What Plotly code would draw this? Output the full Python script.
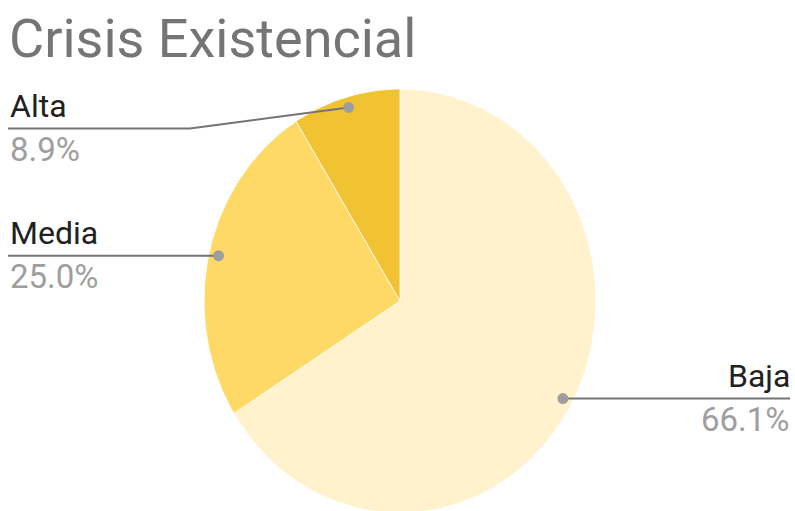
import math
import plotly.graph_objects as go

# ---- data ----
title_text = "Crisis Existencial"
categories = ["Baja", "Media", "Alta"]
values = [66.1, 25.0, 8.9]
pct_labels = ["66.1%", "25.0%", "8.9%"]
slice_colors = ["#FFF2CC", "#FFD966", "#F1C232"]

# ---- geometry (pixel-like data space) ----
W, H = 795, 511
CX, CY = 400, 301
RX, RY = 196, 212
DOT_R = 0.95

def pt(frac, r=1.0):
    a = 2 * math.pi * frac  # clockwise from top
    return CX + RX * r * math.sin(a), CY - RY * r * math.cos(a)

fig = go.Figure()
total = sum(values)
start = 0.0
mids = []
for cat, v, col in zip(categories, values, slice_colors):
    end = start + v / total
    n = max(4, int(300 * (end - start)))
    xs, ys = [CX], [CY]
    for i in range(n + 1):
        x, y = pt(start + (end - start) * i / n)
        xs.append(x); ys.append(y)
    xs.append(CX); ys.append(CY)
    fig.add_trace(go.Scatter(x=xs, y=ys, mode="lines", fill="toself",
                             fillcolor=col, line=dict(color="white", width=0.8),
                             hoverinfo="skip", showlegend=False))
    mids.append((start + end) / 2)
    start = end

# leader lines and labels
line_col = "#757575"
dot_col = "#9E9E9E"
NAME_SIZE, PCT_SIZE = 32, 33
annotations = [dict(text=title_text, x=7, y=38, xref="x", yref="y", xanchor="left",
                    yanchor="middle", showarrow=False,
                    font=dict(family="Roboto", size=54, color="#757575"))]

for cat, pct, m in zip(categories, pct_labels, mids):
    dx, dy = pt(m, DOT_R)
    right = dx > CX
    if cat == "Alta":
        ly = 128.5
        lx = [dx, 190, 8]
        lyy = [dy, ly, ly]
    else:
        ly = dy
        lx = [dx, 790 if right else 8]
        lyy = [dy, dy]
    fig.add_trace(go.Scatter(x=lx, y=lyy, mode="lines",
                             line=dict(color=line_col, width=2),
                             hoverinfo="skip", showlegend=False))
    fig.add_trace(go.Scatter(x=[dx], y=[dy], mode="markers",
                             marker=dict(color=dot_col, size=11),
                             hoverinfo="skip", showlegend=False))
    tx = 792 if right else 8
    anc = "right" if right else "left"
    annotations.append(dict(text=cat, x=tx, y=ly - 12 - 0.34 * NAME_SIZE, xref="x", yref="y",
                            xanchor=anc, yanchor="middle", showarrow=False,
                            font=dict(family="Roboto", size=NAME_SIZE, color="#212121")))
    annotations.append(dict(text=pct, x=tx, y=ly + 32 - 0.34 * PCT_SIZE, xref="x", yref="y",
                            xanchor=anc, yanchor="middle", showarrow=False,
                            font=dict(family="Roboto", size=PCT_SIZE, color="#9E9E9E")))

fig.update_layout(
    width=W, height=H,
    margin=dict(l=0, r=0, t=0, b=0),
    paper_bgcolor="white", plot_bgcolor="white",
    xaxis=dict(range=[0, W], visible=False, fixedrange=True),
    yaxis=dict(range=[H, 0], visible=False, fixedrange=True),
    annotations=annotations,
    showlegend=False,
    hovermode=False,
)

fig.write_html("out.html", config={"displayModeBar": False},
               post_script="document.body.style.margin='0';document.body.style.overflow='hidden';")
